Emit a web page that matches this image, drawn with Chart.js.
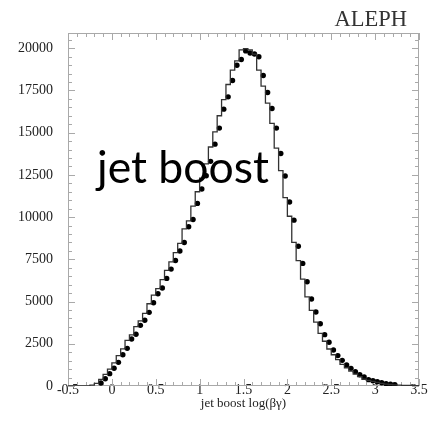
<!DOCTYPE html>
<html>
<head>
<meta charset="utf-8">
<script src="https://cdn.jsdelivr.net/npm/chart.js@4.4.1/dist/chart.umd.min.js"></script>
<style>
  body { margin: 0; background: #fff; }
  #wrap { position: relative; width: 428px; height: 426px; }
  #aleph { position: absolute; right: 21px; top: 8px; font: 22.5px/22px "Liberation Serif", serif; color: #333; }
  #boost { position: absolute; left: 97px; top: 144px; font: 44.5px/44px Lato, sans-serif; color: #000; white-space: nowrap; }
</style>
</head>
<body>
<div id="wrap">
  <canvas id="canvas" width="428" height="426"></canvas>
  <div id="aleph">ALEPH</div>
  <div id="boost">jet boost</div>
</div>
<script>
// bins of 0.05 in log(beta gamma), from -0.5 to 3.5
var binCenters = [];
for (var i = 0; i < 80; i++) binCenters.push(Math.round((-0.475 + 0.05 * i) * 1000) / 1000);
var binWidth = 0.05;

// measured points (data), null where no marker is visible
var dataCounts = [
  null, null, null, null, null, null, null, 180, 430, 730,
  1050, 1400, 1850, 2230, 2780, 3060, 3590, 3890, 4360, 4930,
  5460, 5800, 6370, 6920, 7430, 7990, 8500, 9430, 9860, 10810,
  11660, 12450, 13300, 14320, 15270, 16390, 17120, 18090, 18990, 19330,
  19840, 19720, 19660, 19490, 18380, 17380, 16430, 15270, 13770, 12430,
  10890, 9820, 8270, 7260, 6170, 5150, 4380, 3690, 3040, 2590,
  2130, 1800, 1520, 1240, 1045, 850, 670, 530, 375, 315,
  255, 195, 135, 100, 80, null, null, null, null, null
];

// simulation histogram
var mcCounts = [
  0, 0, 0, 0, 0, 10, 50, 150, 390, 690,
  1000, 1370, 1800, 2200, 2700, 3030, 3520, 3860, 4300, 4870,
  5380, 5760, 6300, 6850, 7350, 7900, 8450, 9300, 9780, 10650,
  11500, 12300, 13150, 14150, 15050, 16000, 16950, 17850, 18700, 19250,
  19900, 19980, 19900, 19650, 18700, 17750, 16750, 15550, 14080, 12750,
  11150, 10050, 8500, 7420, 6330, 5280, 4480, 3780, 3120, 2650,
  2190, 1850, 1560, 1280, 1080, 880, 700, 555, 400, 335,
  270, 210, 150, 115, 90, 70, 55, 40, 30, 20
];

var xTicks = [-0.5, 0, 0.5, 1, 1.5, 2, 2.5, 3, 3.5];
var yTicks = [0, 2500, 5000, 7500, 10000, 12500, 15000, 17500, 20000];

var histPoints = [];
for (i = 0; i < binCenters.length; i++)
  histPoints.push({x: binCenters[i] - binWidth / 2, y: mcCounts[i]});
histPoints.push({x: binCenters[binCenters.length - 1] + binWidth / 2, y: mcCounts[mcCounts.length - 1]});

var dataPoints = [];
for (i = 0; i < binCenters.length; i++)
  if (dataCounts[i] !== null) dataPoints.push({x: binCenters[i], y: dataCounts[i]});

// box around the plot with inward ticks on all four sides
var frame = {
  id: 'frame',
  beforeDraw: function(chart) {
    // x labels sit right on the axis line, so don't clip them to the scale box
    chart.scales.x._computeLabelArea = function() { return undefined; };
  },
  beforeDatasetsDraw: function(chart) {
    var ctx = chart.ctx, a = chart.chartArea, x = chart.scales.x, y = chart.scales.y;
    ctx.save();
    ctx.strokeStyle = '#a9a9a9';
    ctx.lineWidth = 1;
    ctx.strokeRect(a.left + 0.5, a.top + 0.5, a.right - a.left - 1, a.bottom - a.top - 1);
    ctx.beginPath();
    for (var k = 0; k <= 40; k++) {
      var v = -0.5 + k * 0.1;
      var px = Math.round(x.getPixelForValue(v)) + 0.5;
      var len = (k % 5 === 0) ? 7 : 4;
      ctx.moveTo(px, a.bottom); ctx.lineTo(px, a.bottom - len);
      ctx.moveTo(px, a.top); ctx.lineTo(px, a.top + len);
    }
    for (var m = 0; m * 500 <= y.max; m++) {
      var py = Math.round(y.getPixelForValue(m * 500)) + 0.5;
      var l2 = (m % 5 === 0) ? 7 : 4;
      ctx.moveTo(a.left, py); ctx.lineTo(a.left + l2, py);
      ctx.moveTo(a.right, py); ctx.lineTo(a.right - l2, py);
    }
    ctx.stroke();
    ctx.restore();
  }
};

var serif = {family: '"Liberation Serif", serif', size: 14};

new Chart('canvas', {
  type: 'line',
  data: {
    datasets: [{
      data: histPoints,
      stepped: 'after',
      borderColor: '#333',
      borderWidth: 1.3,
      pointRadius: 0,
      fill: false
    }, {
      data: dataPoints,
      showLine: false,
      pointRadius: 2.7,
      pointBackgroundColor: '#000',
      pointBorderWidth: 0
    }]
  },
  plugins: [frame],
  options: {
    responsive: false,
    animation: false,
    layout: {padding: {top: 33, right: 9, left: 0, bottom: 0}},
    plugins: {legend: {display: false}, tooltip: {enabled: false}},
    scales: {
      x: {
        type: 'linear', min: -0.5, max: 3.5,
        grid: {display: false, drawTicks: false},
        border: {display: false},
        afterBuildTicks: function(s) { s.ticks = xTicks.map(function(v) { return {value: v}; }); },
        afterFit: function(s) { s.height = 40; },
        ticks: {color: '#222', font: serif, padding: -4, maxRotation: 0,
          callback: function(v) { return String(v); }},
        title: {display: true, text: 'jet boost log(βγ)', color: '#222',
          font: {family: '"Liberation Serif", serif', size: 13}, padding: {top: 0, bottom: 15}}
      },
      y: {
        min: 0, max: 20900,
        grid: {display: false, drawTicks: false},
        border: {display: false},
        afterBuildTicks: function(s) { s.ticks = yTicks.map(function(v) { return {value: v}; }); },
        afterFit: function(s) { s.width = 68; },
        ticks: {color: '#222', font: serif, padding: 15,
          callback: function(v) { return String(v); }}
      }
    }
  }
});
</script>
</body>
</html>
